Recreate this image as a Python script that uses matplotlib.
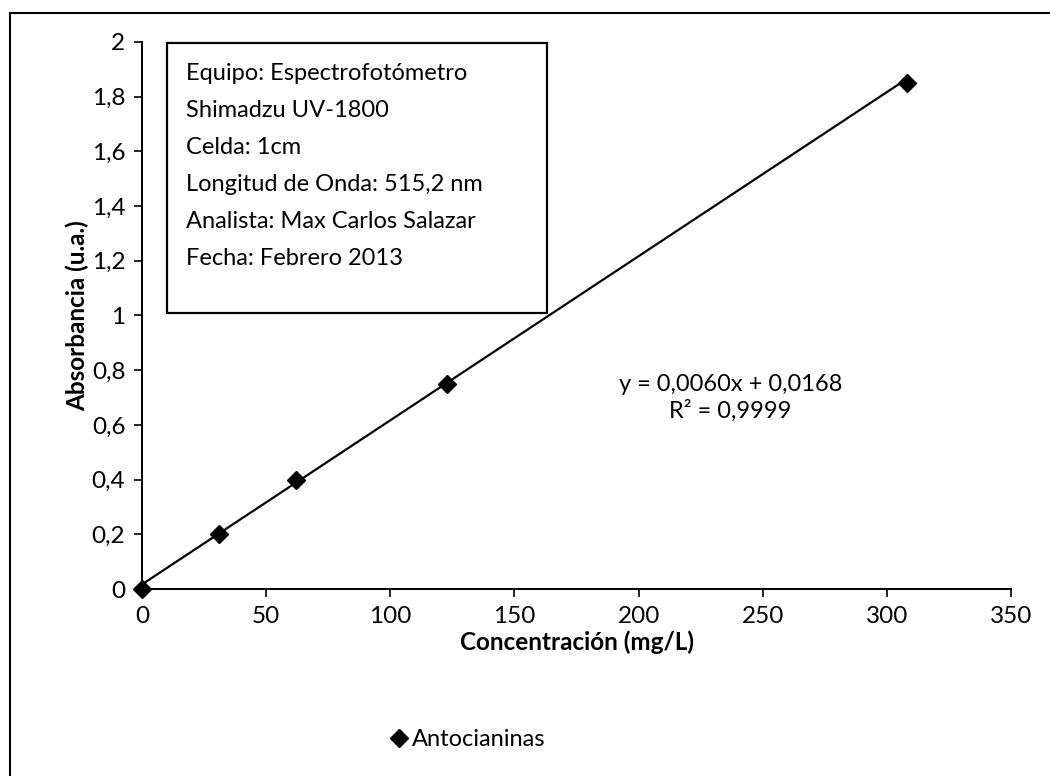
import numpy as np
import matplotlib
matplotlib.use('Agg')
import matplotlib.pyplot as plt
from matplotlib.patches import Rectangle

plt.rcParams['font.family'] = ['Lato', 'DejaVu Sans']

# calibration data
concentracion = [0, 31, 62, 123, 308]
absorbancia = [0, 0.20, 0.40, 0.75, 1.85]
slope = 0.0060
intercept = 0.0168

x_ticks = [0, 50, 100, 150, 200, 250, 300, 350]
y_ticks = [0, 0.2, 0.4, 0.6, 0.8, 1.0, 1.2, 1.4, 1.6, 1.8, 2.0]
y_labels = ['0', '0,2', '0,4', '0,6', '0,8', '1', '1,2', '1,4', '1,6', '1,8', '2']

info_lines = ['Equipo: Espectrofotómetro',
              'Shimadzu UV-1800',
              'Celda: 1cm',
              'Longitud de Onda: 515,2 nm',
              'Analista: Max Carlos Salazar',
              'Fecha: Febrero 2013']

fig = plt.figure(figsize=(10.5, 7.76), dpi=100)
ax = fig.add_axes([142/1050, 1 - 589/776, (1011-142)/1050, (589-42)/776])

# outer chart frame (right and bottom edges fall outside the scan)
fig.patches.append(Rectangle((10/1050, -0.05), 1.1, 1 - 13/776 + 0.05,
                             transform=fig.transFigure, fill=False,
                             edgecolor='black', linewidth=1.5))

xfit = np.array([0, max(concentracion)])
ax.plot(xfit, slope * xfit + intercept, color='black', linewidth=1.6, zorder=2)
ax.plot(concentracion, absorbancia, linestyle='none', marker='D', markersize=9.5,
        markerfacecolor='black', markeredgecolor='black', zorder=3,
        clip_on=False, label='Antocianinas')

ax.set_xlim(0, 350)
ax.set_ylim(0, 2)
ax.set_xticks(x_ticks)
ax.set_xticklabels([str(t) for t in x_ticks])
ax.set_yticks(y_ticks)
ax.set_yticklabels(y_labels)
ax.tick_params(direction='out', length=6, width=1.2, labelsize=17.5, pad=6)
for side in ['top', 'right']:
    ax.spines[side].set_visible(False)
for side in ['left', 'bottom']:
    ax.spines[side].set_linewidth(1.4)

ax.set_xlabel('Concentración (mg/L)', fontsize=17.5, fontweight='bold', labelpad=3)
ax.set_ylabel('Absorbancia (u.a.)', fontsize=17.5, fontweight='bold', labelpad=2)

ax.text(0.677, 0.35, 'y = 0,0060x + 0,0168\nR² = 0,9999', transform=ax.transAxes,
        ha='center', va='center', fontsize=17, linespacing=1.25)

# info box
fig.patches.append(Rectangle((167/1050, 1 - 313/776), (547-167)/1050, (313-43)/776,
                             transform=fig.transFigure, fill=True, facecolor='white',
                             edgecolor='black', linewidth=1.6, zorder=5))
for i, line in enumerate(info_lines):
    fig.text(186/1050, 1 - (73 + i*37.2)/776, line, fontsize=17,
             ha='left', va='center', zorder=6)

fig.legend(loc='center', bbox_to_anchor=(467/1050, 1 - 740/776), frameon=False,
           fontsize=17, handletextpad=0.1, handlelength=0.9, markerscale=1.0)

fig.savefig('out.png', dpi=100)
